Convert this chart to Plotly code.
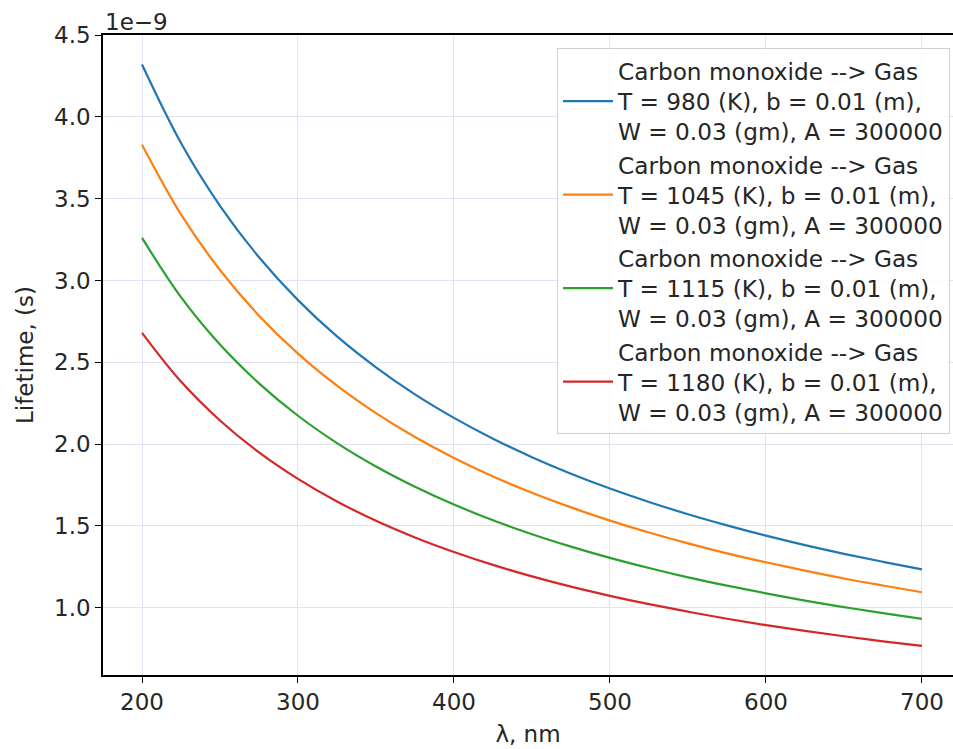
import plotly.graph_objects as go

# Wavelength (nm)
wavelength = [200, 225, 250, 275, 300, 325, 350, 375, 400, 425, 450,
              475, 500, 525, 550, 575, 600, 625, 650, 675, 700]

# Lifetime values in units of 1e-9 s
life_980 = [4.320, 3.840, 3.456, 3.142, 2.880, 2.658, 2.469, 2.304, 2.160, 2.033, 1.920,
            1.819, 1.728, 1.646, 1.571, 1.503, 1.440, 1.382, 1.329, 1.280, 1.234]
life_1045 = [3.830, 3.404, 3.064, 2.785, 2.553, 2.357, 2.189, 2.043, 1.915, 1.802, 1.702,
             1.613, 1.532, 1.459, 1.393, 1.332, 1.277, 1.226, 1.178, 1.135, 1.094]
life_1115 = [3.260, 2.898, 2.608, 2.371, 2.173, 2.006, 1.863, 1.739, 1.630, 1.534, 1.449,
             1.373, 1.304, 1.242, 1.185, 1.134, 1.087, 1.043, 1.003, 0.966, 0.931]
life_1180 = [2.680, 2.382, 2.144, 1.949, 1.787, 1.649, 1.531, 1.429, 1.340, 1.261, 1.191,
             1.128, 1.072, 1.021, 0.975, 0.932, 0.893, 0.858, 0.825, 0.794, 0.766]

series_names = [
    "Carbon monoxide --> Gas<br>T = 980 (K), b = 0.01 (m),<br>W = 0.03 (gm), A = 300000",
    "Carbon monoxide --> Gas<br>T = 1045 (K), b = 0.01 (m),<br>W = 0.03 (gm), A = 300000",
    "Carbon monoxide --> Gas<br>T = 1115 (K), b = 0.01 (m),<br>W = 0.03 (gm), A = 300000",
    "Carbon monoxide --> Gas<br>T = 1180 (K), b = 0.01 (m),<br>W = 0.03 (gm), A = 300000",
]
series_values = [life_980, life_1045, life_1115, life_1180]
colors = ["#1f77b4", "#ff7f0e", "#2ca02c", "#d62728"]

x_ticks = [200, 300, 400, 500, 600, 700]
y_ticks = [1.0, 1.5, 2.0, 2.5, 3.0, 3.5, 4.0, 4.5]

FONT = "DejaVu Sans, sans-serif"
FS = 23

fig = go.Figure()
for name, vals, col in zip(series_names, series_values, colors):
    fig.add_trace(go.Scatter(x=wavelength, y=vals, mode="lines", name=name,
                             line=dict(color=col, width=2.2, shape="spline")))

fig.update_layout(
    width=953, height=749,
    margin=dict(l=103, r=0, t=35, b=74),
    paper_bgcolor="white", plot_bgcolor="white",
    font=dict(family=FONT, size=FS, color="#262626"),
    showlegend=True,
    legend=dict(x=0.9965, y=0.979, xanchor="right", yanchor="top",
                bgcolor="rgba(255,255,255,0.85)", bordercolor="#d0d0d0", borderwidth=1,
                font=dict(family=FONT, size=23.2, color="#262626"),
                tracegroupgap=0, itemwidth=50),
    xaxis=dict(range=[175, 719.9], tickvals=x_ticks, showgrid=True,
               gridcolor="#e3e3f5", gridwidth=1,
               showline=True, linecolor="black", linewidth=1.5, mirror=True,
               ticks="outside", ticklen=6, tickcolor="black", zeroline=False,
               title=dict(text="λ, nm", standoff=12, font=dict(size=FS))),
    yaxis=dict(range=[0.588, 4.5008], tickvals=y_ticks, tickformat=".1f", showgrid=True,
               gridcolor="#e3e3f5", gridwidth=1,
               showline=True, linecolor="black", linewidth=1.5, mirror=False,
               ticks="outside", ticklen=6, tickcolor="black", zeroline=False,
               title=dict(text="Lifetime, (s)", standoff=14, font=dict(size=FS))),
)

fig.add_annotation(text="1e\u22129", xref="paper", yref="paper", x=0, y=1,
                   xanchor="left", yanchor="bottom", showarrow=False,
                   font=dict(family=FONT, size=FS, color="#262626"), yshift=-2)

fig.write_html("out.html")
